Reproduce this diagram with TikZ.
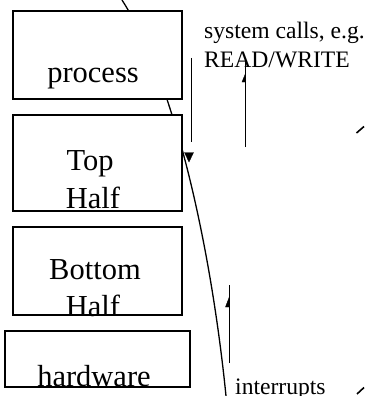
\documentclass[tikz,border=0pt]{standalone}
\usepackage{fontspec}
\setmainfont{Liberation Serif}
\begin{document}
\begin{tikzpicture}[x=1pt,y=-1pt,
  box/.style={draw, line width=1.3pt, fill=white, inner sep=0pt},
  big/.style={inner sep=0pt, anchor=base, font=\fontsize{30.5}{36}\selectfont},
  small/.style={inner sep=0pt, anchor=base west, font=\fontsize{23.6}{28}\selectfont},
  conn/.style={line width=1.3pt},
  head/.style={fill=black, draw=black, line width=0.4pt}]
\useasboundingbox (0,0) rectangle (364,396);
% curve behind the boxes
\coordinate (c0) at (122,0);
\coordinate (c1) at (226,396);
\draw[conn] (c0) .. controls (179.6,90) and (213,266) .. (c1);
% boxes
\node[box, minimum width=169pt, minimum height=88pt] (proc) at (97.5,55) {};
\node[box, minimum width=169pt, minimum height=96pt] (top) at (97.5,163) {};
\node[box, minimum width=169pt, minimum height=88pt] (bot) at (97.5,271) {};
\node[box, minimum width=185pt, minimum height=56pt] (hw) at (97.5,359) {};
% box texts
\node[big] (tproc) at (93,82) {process};
\node[big] (ttop1) at (90,170) {Top};
\node[big] (ttop2) at (93,208) {Half};
\node[big] (tbot1) at (95,279) {Bottom};
\node[big] (tbot2) at (93,316) {Half};
\node[big] (thw) at (94,386) {hardware};
% labels
\node[small] (sys1) at (204,38) {system calls, e.g.};
\node[small] (sys2) at (204,67) {READ/WRITE};
\node[small] (intr) at (235,394) {interrupts};
% down arrow
\coordinate (d0) at (191.7,58);
\coordinate (d1) at (191.7,142);
\draw[conn] (d0) -- (d1);
\fill[head] (184.5,152.5) -- (193.5,152.5) -- (189,162) -- cycle;
% up arrow (system calls)
\coordinate (u0) at (245.7,147);
\coordinate (u1) at (245.7,60);
\draw[conn] (u0) -- (u1);
\fill[head] (242,82) -- (245.7,73) -- (245.7,82) -- cycle;
% up arrow (interrupts)
\coordinate (v0) at (229.3,363);
\coordinate (v1) at (229.3,285);
\draw[conn] (v0) -- (v1);
\fill[head] (225.5,307) -- (229.3,297) -- (229.3,307) -- cycle;
% cut-off fragments at right edge
\coordinate (f0) at (356.5,133);
\coordinate (f1) at (364,126.5);
\draw[conn, line width=1.6pt] (f0) -- (f1);
\coordinate (g0) at (357,394);
\coordinate (g1) at (364,387.5);
\draw[conn, line width=1.6pt] (g0) -- (g1);
\end{tikzpicture}
\end{document}
